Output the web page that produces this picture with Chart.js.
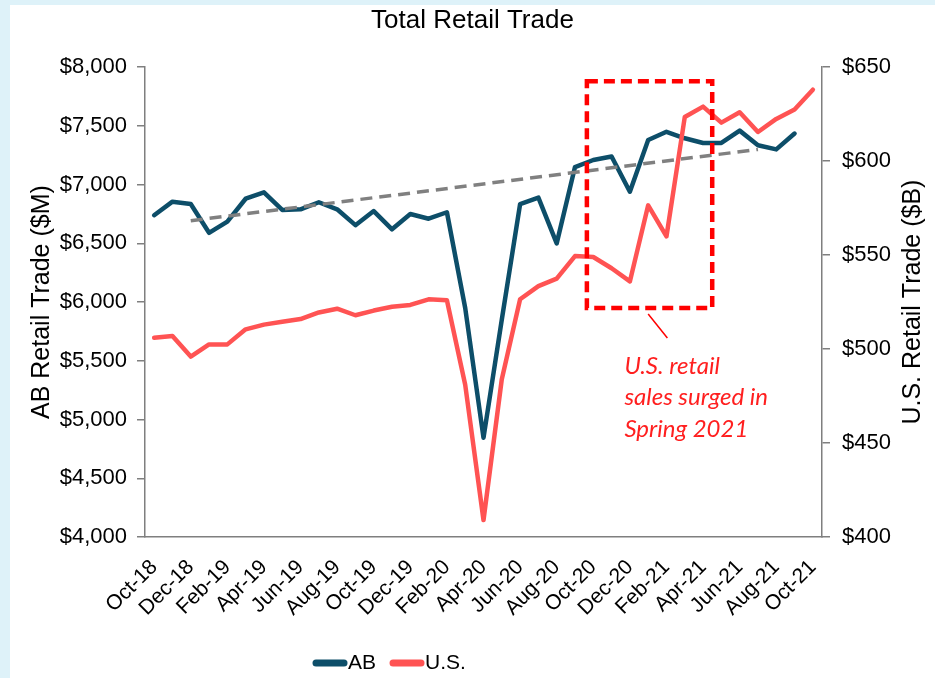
<!DOCTYPE html>
<html>
<head>
<meta charset="utf-8">
<script src="https://cdn.jsdelivr.net/npm/chart.js@4.4.0/dist/chart.umd.min.js"></script>
<style>
  html, body { margin: 0; padding: 0; background: #fff; }
  #wrap { width: 935px; height: 678px; }
</style>
</head>
<body>
<div id="wrap"><canvas id="myChart" width="935" height="678"></canvas></div>
<script>
// months, Oct-18 .. Oct-21
const months = ["Oct-18", "Nov-18", "Dec-18", "Jan-19", "Feb-19", "Mar-19", "Apr-19", "May-19", "Jun-19", "Jul-19", "Aug-19", "Sep-19",
  "Oct-19", "Nov-19", "Dec-19", "Jan-20", "Feb-20", "Mar-20", "Apr-20", "May-20", "Jun-20", "Jul-20", "Aug-20", "Sep-20",
  "Oct-20", "Nov-20", "Dec-20", "Jan-21", "Feb-21", "Mar-21", "Apr-21", "May-21", "Jun-21", "Jul-21", "Aug-21", "Sep-21", "Oct-21"];

// AB retail trade ($M), left axis
const abSales = [6740, 6855, 6835, 6590, 6685, 6880, 6935, 6785, 6790, 6850, 6790, 6655,
  6775, 6620, 6750, 6710, 6765, 5950, 4845, 5850, 6835, 6890, 6500, 7150,
  7210, 7240, 6940, 7380, 7450, 7395, 7355, 7355, 7460, 7335, 7300, 7435, null];

// U.S. retail trade ($B), right axis
const usSales = [506, 507, 496, 502.5, 502.5, 510.5, 513, 514.5, 516, 519.5, 521.5, 518,
  520.5, 522.5, 523.5, 526.5, 526, 481, 409, 484, 526.5, 533.5, 537.5, 549.5,
  549, 543, 536, 576.5, 560, 623.5, 629, 620.5, 626, 615.5, 622.5, 627.5, 638];

// AB trend line, only the two ends (Dec-18 and Jul-21)
const abTrend = months.map((m) => (m === "Dec-18" ? 6693 : m === "Jul-21" ? 7300 : null));

const seriesNames = ["AB", "U.S."];
const calloutText = ["U.S. retail", "sales surged in", "Spring 2021"];
const rightTitle = "U.S. Retail Trade ($B)";

const tealColor = "#0d4e69";
const redColor = "#ff5353";
const axisGray = "#7f7f7f";
const fontFamily = "'Liberation Sans', Arial, sans-serif";

// light blue frame behind the chart
const framePlugin = {
  id: "frame",
  beforeDraw(chart) {
    const ctx = chart.ctx;
    ctx.save();
    ctx.fillStyle = "#def2f9";
    ctx.fillRect(0, 0, chart.width, chart.height);
    ctx.fillStyle = "#ffffff";
    ctx.fillRect(10, 5, chart.width - 10, chart.height - 5);
    ctx.restore();
  },
};

// red dashed box + callout text, placed in data units
const calloutPlugin = {
  id: "callout",
  afterDatasetsDraw(chart) {
    const ctx = chart.ctx;
    const x = chart.scales.x;
    const y = chart.scales.yAB;
    const left = x.getPixelForValue(23.65);
    const right = x.getPixelForValue(30.5);
    const top = y.getPixelForValue(7880);
    const bottom = y.getPixelForValue(5950);
    ctx.save();
    ctx.strokeStyle = "#ff0000";
    ctx.lineWidth = 4.5;
    ctx.setLineDash([11, 6]);
    ctx.strokeRect(left, top, right - left, bottom - top);
    ctx.setLineDash([]);
    ctx.lineWidth = 1.5;
    ctx.beginPath();
    ctx.moveTo(x.getPixelForValue(27.0), y.getPixelForValue(5898));
    ctx.lineTo(x.getPixelForValue(28.05), y.getPixelForValue(5694));
    ctx.stroke();

    ctx.fillStyle = "#ff1f1f";
    ctx.font = "italic 24px Lato, 'Open Sans', sans-serif";
    ctx.textAlign = "left";
    ctx.textBaseline = "alphabetic";
    const tx = x.getPixelForValue(25.7);
    const baselines = [5387, 5125, 4851];
    calloutText.forEach((line, i) => {
      ctx.fillText(line, tx, y.getPixelForValue(baselines[i]));
    });
    ctx.restore();
  },
};

// right axis title reads bottom-to-top, legend sits left of centre
const extrasPlugin = {
  id: "extras",
  afterDraw(chart) {
    const ctx = chart.ctx;
    const area = chart.chartArea;
    ctx.save();
    ctx.translate(913, (area.top + area.bottom) / 2);
    ctx.rotate(-Math.PI / 2);
    ctx.font = "25px " + fontFamily;
    ctx.fillStyle = "#000";
    ctx.textAlign = "center";
    ctx.textBaseline = "middle";
    ctx.fillText(rightTitle, 0, 0);
    ctx.restore();

    let lx = 313;
    const ly = 663;
    ctx.save();
    ctx.font = "21px " + fontFamily;
    ctx.textBaseline = "middle";
    ctx.textAlign = "left";
    seriesNames.forEach((name, i) => {
      const ds = chart.data.datasets[i];
      ctx.strokeStyle = ds.borderColor;
      ctx.lineWidth = 7;
      ctx.lineCap = "round";
      ctx.beginPath();
      ctx.moveTo(lx + 3, ly);
      ctx.lineTo(lx + 31, ly);
      ctx.stroke();
      ctx.fillStyle = "#000";
      ctx.fillText(name, lx + 35, ly);
      lx += 35 + ctx.measureText(name).width + 14;
    });
    ctx.restore();
  },
};

const ctx = document.getElementById("myChart").getContext("2d");
const myChart = new Chart(ctx, {
  type: "line",
  data: {
    labels: months,
    datasets: [
      {
        label: seriesNames[0],
        data: abSales,
        yAxisID: "yAB",
        borderColor: tealColor,
        backgroundColor: tealColor,
        borderWidth: 4.5,
        pointRadius: 0,
        tension: 0,
        borderJoinStyle: "round",
        borderCapStyle: "round",
        order: 3,
      },
      {
        label: seriesNames[1],
        data: usSales,
        yAxisID: "yUS",
        borderColor: redColor,
        backgroundColor: redColor,
        borderWidth: 4.5,
        pointRadius: 0,
        tension: 0,
        borderJoinStyle: "round",
        borderCapStyle: "round",
        order: 2,
      },
      {
        label: "trend",
        data: abTrend,
        yAxisID: "yAB",
        borderColor: "#808080",
        borderWidth: 3.5,
        borderDash: [12, 7],
        pointRadius: 0,
        spanGaps: true,
        order: 1,
      },
    ],
  },
  options: {
    responsive: false,
    animation: false,
    layout: { padding: { left: 10, top: 5, right: 0, bottom: 0 } },
    plugins: {
      legend: { display: false },
      tooltip: { enabled: false },
      title: {
        display: true,
        text: "Total Retail Trade",
        color: "#000",
        font: { family: fontFamily, size: 26, weight: "normal" },
        padding: { top: 0, bottom: 31 },
      },
    },
    scales: {
      x: {
        offset: true,
        grid: { display: false },
        border: { display: true, color: axisGray, width: 1.5 },
        ticks: {
          autoSkip: false,
          maxRotation: 45,
          minRotation: 45,
          padding: 10,
          color: "#000",
          font: { family: fontFamily, size: 21 },
          callback: (v, i) => (i % 2 === 0 ? months[i] : ""),
        },
        afterFit: (scale) => { scale.height = 141; },
      },
      yAB: {
        position: "left",
        min: 4000,
        max: 8000,
        grid: { drawOnChartArea: false, drawTicks: true, tickLength: 8, color: axisGray, lineWidth: 1.5 },
        border: { color: axisGray, width: 1.5 },
        ticks: {
          stepSize: 500,
          padding: 10,
          color: "#000",
          font: { family: fontFamily, size: 22 },
          callback: (v) => "$" + v.toLocaleString("en-US"),
        },
        title: {
          display: true,
          text: "AB Retail Trade ($M)",
          color: "#000",
          font: { family: fontFamily, size: 25 },
          padding: { top: 17, bottom: 0 },
        },
        afterFit: (scale) => { scale.width = 135; },
      },
      yUS: {
        position: "right",
        min: 400,
        max: 650,
        grid: { drawOnChartArea: false, drawTicks: true, tickLength: 8, color: axisGray, lineWidth: 1.5 },
        border: { color: axisGray, width: 1.5 },
        ticks: {
          stepSize: 50,
          padding: 12,
          color: "#000",
          font: { family: fontFamily, size: 22 },
          callback: (v) => "$" + v,
        },
        afterFit: (scale) => { scale.width = 113; },
      },
    },
  },
  plugins: [framePlugin, calloutPlugin, extrasPlugin],
});
</script>
</body>
</html>
